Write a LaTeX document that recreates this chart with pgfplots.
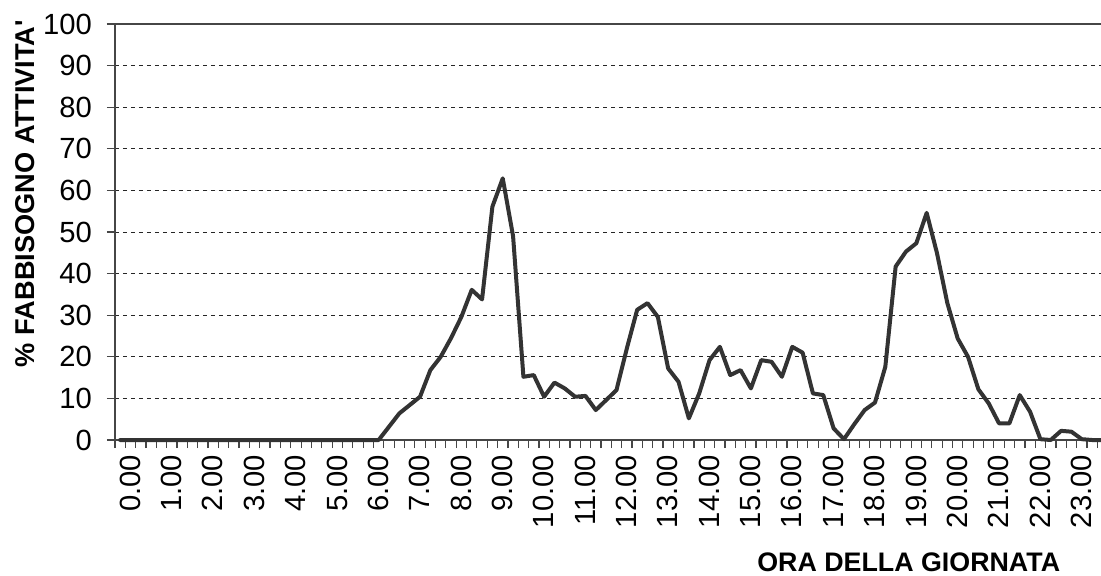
\documentclass[border=0pt]{standalone}
\usepackage{pgfplots}
\pgfplotsset{compat=1.18}
\usepackage{fontspec}
\setmainfont{Liberation Sans}
\definecolor{lineC}{RGB}{51,51,51}
\definecolor{axC}{RGB}{70,70,70}
\newcommand{\tkf}{\fontsize{14.6}{17}\selectfont}
\newcommand{\xl}[1]{\mbox{\tkf #1}}
\pgfplotstableread{
i v
0 0
1 0
2 0
3 0
4 0
5 0
6 0
7 0
8 0
9 0
10 0
11 0
12 0
13 0
14 0
15 0
16 0
17 0
18 0
19 0
20 0
21 0
22 0
23 0
24 0
25 0
26 3.2
27 6.4
28 8.4
29 10.4
30 16.8
31 20
32 24.5
33 29.6
34 36.1
35 33.8
36 56.1
37 62.9
38 49
39 15.2
40 15.6
41 10.4
42 13.8
43 12.4
44 10.4
45 10.6
46 7.2
47 9.6
48 12
49 22
50 31.3
51 32.9
52 29.6
53 17.2
54 14
55 5.2
56 11.2
57 19.2
58 22.4
59 15.6
60 16.8
61 12.4
62 19.2
63 18.8
64 15.2
65 22.4
66 21
67 11.2
68 10.8
69 2.8
70 0.2
71 3.8
72 7.2
73 9
74 17.6
75 41.7
76 45.3
77 47.3
78 54.6
79 44.9
80 32.9
81 24.4
82 20
83 12.2
84 8.8
85 4
86 4
87 10.8
88 6.8
89 0.2
90 0
91 2.2
92 2
93 0.2
94 0
95 0
}\datatab
\begin{document}
\begin{tikzpicture}
\begin{axis}[
  name=ax,
  scale only axis, width=493pt, height=208pt,
  xmin=-0.5, xmax=94.86, ymin=0, ymax=100,
  clip=false,
  axis x line*=bottom, axis y line*=left,
  axis line style={axC, line width=0.6pt},
  every tick/.style={axC, line width=0.6pt},
  tick align=outside,
  major tick length=4pt,
  tick label style={text=black},
  xtick={-0.5,0.5,...,94.5},
  xticklabels={},
  extra x ticks={0,4,...,92},
  extra x tick labels={\xl{0.00},\xl{1.00},\xl{2.00},\xl{3.00},\xl{4.00},\xl{5.00},\xl{6.00},\xl{7.00},\xl{8.00},\xl{9.00},\xl{10.00},\xl{11.00},\xl{12.00},\xl{13.00},\xl{14.00},\xl{15.00},\xl{16.00},\xl{17.00},\xl{18.00},\xl{19.00},\xl{20.00},\xl{21.00},\xl{22.00},\xl{23.00}},
  extra x tick style={tick style={draw=none}, xticklabel style={rotate=90, anchor=east, yshift=-5pt}},
  ytick={0,10,...,100},
  yticklabels={\xl{0},\xl{10},\xl{20},\xl{30},\xl{40},\xl{50},\xl{60},\xl{70},\xl{80},\xl{90},\xl{100}},
  yticklabel style={xshift=-4pt},
  ymajorgrids,
  major grid style={black!85, line width=0.5pt, dash pattern=on 2pt off 2pt},
  extra y ticks={100},
  extra y tick labels={},
  extra y tick style={grid=major, major grid style={solid, axC, line width=0.6pt}},
  xlabel={ORA DELLA GIORNATA},
  xlabel style={at={(axis description cs:0.805,-0.294)}, anchor=center, font=\bfseries\fontsize{13.4}{16}\selectfont},
  ylabel={\% FABBISOGNO ATTIVITA\textquotesingle},
  ylabel style={at={(axis description cs:-0.0913,0.5925)}, anchor=center, rotate=0, font=\bfseries\fontsize{13.6}{16}\selectfont},
]
\addplot[lineC, line width=2pt, line join=round, line cap=round] table[x=i, y=v] {\datatab};
\end{axis}
\pgfresetboundingbox
\path[use as bounding box] (ax.south west) ++(-57.5pt,-67.5pt) rectangle ++(550.5pt,287.5pt);
\end{tikzpicture}
\end{document}
